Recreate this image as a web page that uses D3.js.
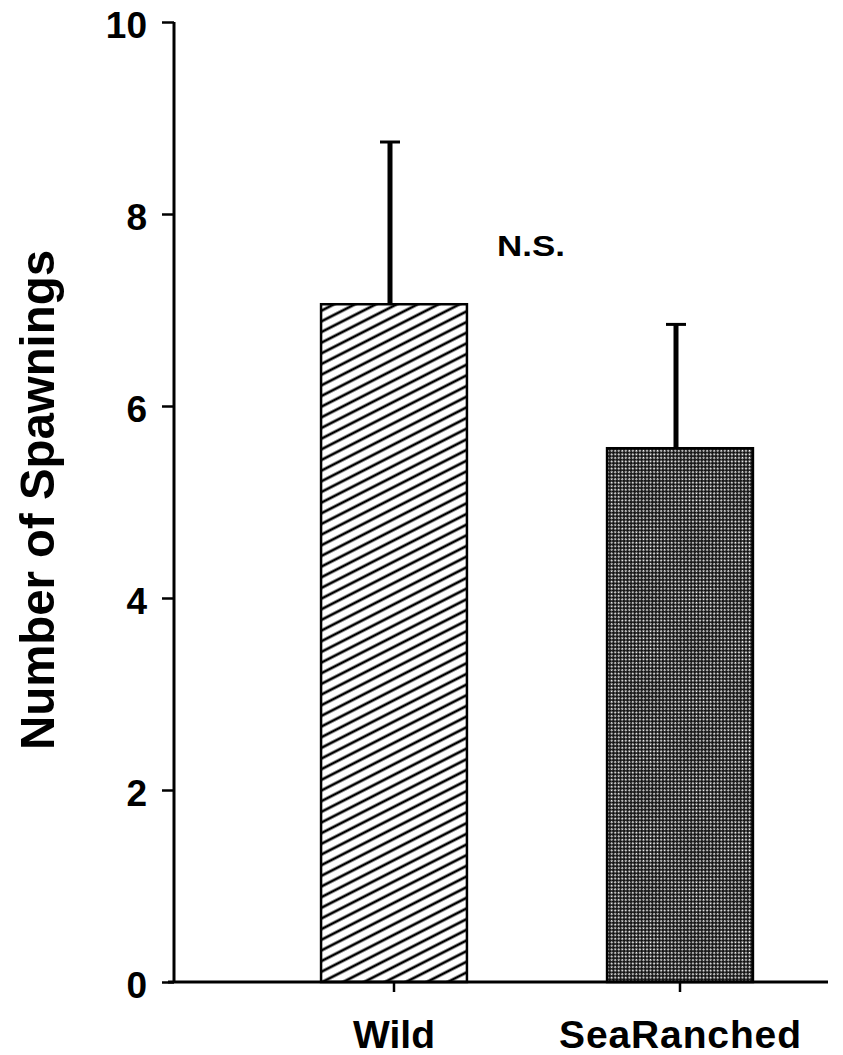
<!DOCTYPE html>
<html>
<head>
<meta charset="utf-8">
<script src="https://cdn.jsdelivr.net/npm/d3@7"></script>
<style>
  html, body { margin: 0; padding: 0; background: #fff; }
  svg { display: block; }
  text { font-family: "Liberation Sans", Arial, Helvetica, sans-serif; font-weight: bold; fill: #000; }
</style>
</head>
<body>
<svg id="chart" width="843" height="1055"></svg>
<script>
// ---- data ----
const categories = ["Wild", "SeaRanched"];
const means = [7.06, 5.56];
const upperErrors = [8.75, 6.85];
const yTicks = [0, 2, 4, 6, 8, 10];
const yTitle = "Number of Spawnings";
const annotation = "N.S.";

// ---- layout ----
const svg = d3.select("#chart");
const y = d3.scaleLinear().domain([0, 10]).range([982, 22]);
const x = d3.scaleBand().domain(categories).range([251, 823]).paddingInner(0.49).paddingOuter(0.245);
const axisX = 174;

// patterns
const defs = svg.append("defs");
const hatch = defs.append("pattern")
  .attr("id", "hatch").attr("patternUnits", "userSpaceOnUse")
  .attr("width", 9.5).attr("height", 9.5)
  .attr("patternTransform", "rotate(-27)");
hatch.append("rect").attr("width", 9.5).attr("height", 9.5).attr("fill", "#fff");
hatch.append("line").attr("x1", 0).attr("x2", 9.5).attr("y1", 4.75).attr("y2", 4.75)
  .attr("stroke", "#000").attr("stroke-width", 2.7);

const dots = defs.append("pattern")
  .attr("id", "dots").attr("patternUnits", "userSpaceOnUse")
  .attr("width", 5).attr("height", 5)
  .attr("patternTransform", "rotate(45)");
dots.append("rect").attr("width", 5).attr("height", 5).attr("fill", "#111");
dots.append("rect").attr("x", 0.4).attr("y", 0.4).attr("width", 1.8).attr("height", 1.8).attr("fill", "#fff");
dots.append("rect").attr("x", 2.9).attr("y", 2.9).attr("width", 1.8).attr("height", 1.8).attr("fill", "#fff");

const fills = ["url(#hatch)", "url(#dots)"];
const data = categories.map((c, i) => ({ c, m: means[i], e: upperErrors[i], f: fills[i] }));

// error bars (behind bars)
const eg = svg.append("g");
eg.selectAll("line.stem").data(data).enter().append("line")
  .attr("x1", d => x(d.c) + x.bandwidth() / 2 - 4)
  .attr("x2", d => x(d.c) + x.bandwidth() / 2 - 4)
  .attr("y1", d => y(d.m)).attr("y2", d => y(d.e))
  .attr("stroke", "#000").attr("stroke-width", 5);
eg.selectAll("line.cap").data(data).enter().append("line")
  .attr("x1", d => x(d.c) + x.bandwidth() / 2 - 14)
  .attr("x2", d => x(d.c) + x.bandwidth() / 2 + 6)
  .attr("y1", d => y(d.e)).attr("y2", d => y(d.e))
  .attr("stroke", "#000").attr("stroke-width", 3);

// bars
svg.append("g").selectAll("rect").data(data).enter().append("rect")
  .attr("x", d => x(d.c))
  .attr("width", x.bandwidth())
  .attr("y", d => y(d.m))
  .attr("height", d => y(0) - y(d.m))
  .attr("fill", d => d.f)
  .attr("stroke", "#000").attr("stroke-width", 2.5);

// y axis
const yAxis = d3.axisLeft(y).tickValues(yTicks).tickSize(12).tickPadding(15).tickFormat(d3.format("d"));
const ya = svg.append("g").attr("transform", `translate(${axisX},0)`).call(yAxis);
ya.select(".domain").attr("d", `M0,${y(10)}V${y(0)}`).attr("stroke", "#000").attr("stroke-width", 3);
ya.selectAll(".tick line").attr("stroke", "#000").attr("stroke-width", 2.5);
ya.selectAll(".tick text").attr("font-size", 37).attr("font-family", "'Liberation Sans', Arial, sans-serif")
  .attr("font-weight", "bold").attr("fill", "#000").attr("dy", "0.42em");

// x axis
const xAxis = d3.axisBottom(x).tickSize(10).tickPadding(28);
const xa = svg.append("g").attr("transform", `translate(0,${y(0)})`).call(xAxis);
xa.select(".domain").attr("d", `M168,0H828`).attr("stroke", "#000").attr("stroke-width", 3);
xa.selectAll(".tick line").attr("stroke", "#000").attr("stroke-width", 2.5);
xa.selectAll(".tick text").attr("font-size", 39).attr("font-family", "'Liberation Sans', Arial, sans-serif")
  .attr("font-weight", "bold").attr("fill", "#000").attr("dy", "0.72em");
xa.selectAll(".tick text").filter(d => d === "SeaRanched").attr("textLength", 242).attr("lengthAdjust", "spacing");

// y title
svg.append("text")
  .attr("transform", "translate(54,500) rotate(-90)")
  .attr("text-anchor", "middle")
  .attr("font-size", 49)
  .attr("textLength", 500).attr("lengthAdjust", "spacingAndGlyphs")
  .text(yTitle);

// annotation
svg.append("text")
  .attr("x", 497).attr("y", 256)
  .attr("font-size", 29)
  .attr("textLength", 68).attr("lengthAdjust", "spacingAndGlyphs")
  .text(annotation);
</script>
</body>
</html>
